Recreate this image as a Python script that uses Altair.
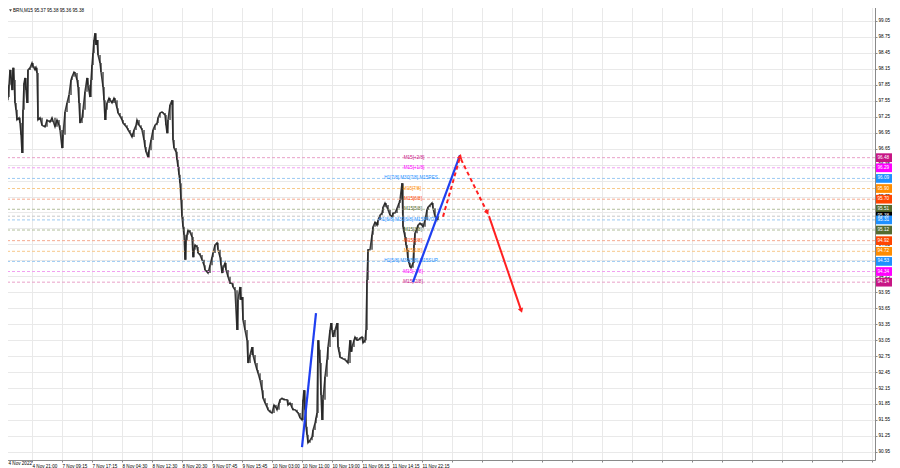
import altair as alt
import pandas as pd

# ---------------- data ----------------
slots = [0, 2, 4, 6, 8, 9, 10, 11, 12, 13, 14, 15, 16, 17, 19, 20, 21, 22, 23, 24, 25, 26, 27, 28, 30, 32, 33, 35, 36, 37,
         38, 40, 42, 45, 47, 50, 52, 55, 57, 59, 60, 62, 63, 65, 67, 69, 71, 72, 74, 75, 77, 78, 79, 80, 82, 83, 85, 87, 88, 90,
         91, 92, 93, 94, 95, 96, 97, 98, 100, 101, 103, 104, 105, 106, 107, 109, 110, 112, 114, 115, 117, 118, 120, 122, 123, 125, 127, 128, 130, 132,
         134, 136, 137, 139, 141, 142, 144, 145, 146, 148, 149, 151, 153, 155, 157, 158, 160, 162, 163, 165, 166, 167, 168, 170, 172, 173, 174, 176, 177, 178,
         179, 180, 181, 182, 183, 184, 185, 186, 187, 188, 190, 192, 193, 194, 195, 197, 198, 200, 202, 204, 205, 207, 208, 210, 212, 213, 215, 217, 218, 220,
         221, 222, 223, 225, 226, 228, 230, 232, 233, 235, 237, 238, 240, 241, 242, 243, 245, 247, 248, 250, 252, 253, 255, 257, 258, 260, 262, 263, 265, 267,
         268, 270, 272, 274, 276, 277, 279, 280, 282, 284, 287, 288, 290, 292, 293, 295, 297, 298, 300, 302, 303, 304, 305, 306, 307, 308, 310, 312, 313, 315,
         316, 317, 318, 319, 320, 321, 322, 323, 325, 327, 328, 330, 331, 332, 333, 335, 337, 338, 339, 340, 342, 345, 347, 348, 350, 351, 352, 354, 355, 357,
         358, 360, 362, 363, 365, 366, 367, 368, 370, 372, 373, 375, 377, 378, 380, 382, 383, 385, 386, 388, 390, 392, 393, 395, 397, 399, 400, 402, 403, 404,
         405, 406, 407, 408, 409, 410, 411, 413, 414, 415, 417, 418, 420, 422, 423, 425, 427, 428, 430, 432, 433, 435, 437, 438]
closes = [97.19, 97.41, 97.32, 97.56, 97.62, 97.85, 98.13, 97.98, 97.75, 98.17, 97.94, 97.51, 97.38, 97.19, 97.23, 97.13, 96.91, 96.57, 97.38, 97.88, 97.98, 97.75, 97.51, 98.13, 98.17, 98.26, 98.20, 98.13, 98.17, 98.07,
          97.19, 97.23, 97.09, 97.06, 97.19, 97.15, 97.23, 97.06, 97.19, 97.09, 97.00, 96.66, 96.91, 97.34, 97.51, 97.66, 97.94, 98.00, 98.09, 98.07, 97.94, 97.81, 97.51, 97.13, 97.23, 97.38, 97.72, 97.98, 97.85, 97.62,
          97.94, 98.22, 98.45, 98.69, 98.82, 98.60, 98.69, 98.41, 98.26, 98.09, 97.81, 97.56, 97.19, 97.38, 97.51, 97.60, 97.56, 97.51, 97.60, 97.56, 97.41, 97.32, 97.26, 97.19, 97.13, 97.09, 97.04, 97.00, 96.94, 96.87,
          97.00, 97.09, 97.19, 97.09, 97.04, 97.00, 96.81, 96.68, 96.59, 96.49, 96.62, 96.81, 97.00, 97.09, 97.13, 97.23, 97.32, 97.34, 97.32, 97.28, 97.09, 96.94, 97.19, 97.47, 97.56, 96.81, 96.66, 96.59, 96.44, 96.31,
          96.16, 96.00, 95.69, 95.37, 95.18, 95.03, 94.56, 94.93, 95.03, 95.12, 95.08, 94.99, 94.61, 94.75, 94.84, 94.80, 94.69, 94.65, 94.56, 94.46, 94.37, 94.33, 94.31, 94.46, 94.61, 94.69, 94.84, 94.88, 94.75, 94.61,
          94.46, 94.31, 94.41, 94.50, 94.37, 94.24, 94.12, 94.12, 94.05, 93.99, 93.24, 93.81, 94.05, 93.81, 93.86, 93.43, 93.24, 93.05, 92.62, 92.77, 92.92, 92.77, 92.62, 92.49, 92.43, 92.30, 92.11, 91.96, 91.87, 91.79,
          91.74, 91.70, 91.68, 91.83, 91.78, 91.74, 91.87, 91.93, 91.96, 91.93, 91.93, 91.83, 91.87, 91.78, 91.74, 91.74, 91.70, 91.68, 91.59, 91.55, 91.93, 92.11, 91.74, 91.42, 91.27, 91.12, 91.17, 91.23, 91.36, 91.49,
          91.59, 91.68, 93.05, 92.87, 92.62, 92.02, 91.55, 91.93, 92.36, 92.68, 92.92, 93.24, 93.37, 93.24, 93.11, 93.24, 93.37, 92.92, 92.83, 92.73, 92.71, 92.68, 92.64, 92.62, 93.05, 92.83, 92.92, 93.05, 93.11, 93.05,
          93.05, 93.09, 93.11, 93.00, 93.05, 93.24, 94.18, 94.75, 94.75, 95.03, 95.18, 95.27, 95.21, 95.31, 95.40, 95.44, 95.55, 95.63, 95.59, 95.50, 95.40, 95.37, 95.44, 95.44, 95.53, 95.63, 95.69, 96.00, 95.18, 95.08,
          94.99, 94.84, 94.75, 94.56, 94.50, 94.43, 94.41, 94.50, 94.84, 95.06, 95.16, 95.21, 95.25, 95.21, 95.18, 95.31, 95.50, 95.55, 95.59, 95.63, 95.53, 95.37, 95.31, 95.38]

level_prices = [96.48, 96.29, 96.09, 95.90, 95.70, 95.51, 95.38, 95.31, 95.12, 94.92, 94.72, 94.53, 94.34, 94.14]
level_names = ["M15[+2/8]", "M15[+1/8]", "H1[7/8] M30[7/8] M15RES", "M15[7/8]", "M15[6/8]", "M15[5/8]", "",
               "H1[6/8] M30[6/8] M15PIVOT", "M15[3/8]", "M15[2/8]", "M15[1/8]", "H1[5/8] M30[5/8] M15SUP",
               "M15[-1/8]", "M15[-2/8]"]
level_colors = ["#c71585", "#ff00ff", "#1e90ff", "#ff8c00", "#ff4500", "#556b2f", "#000000",
                "#1e90ff", "#556b2f", "#ff4500", "#ff8c00", "#1e90ff", "#ff00ff", "#c71585"]
line_colors = ["#e8a0c8", "#f0a0f0", "#9ccaf2", "#f7c98a", "#f5a98f", "#b3bf9c", "#c8c8c8",
               "#9ccaf2", "#b3bf9c", "#f5a98f", "#f7c98a", "#9ccaf2", "#f0a0f0", "#e8a0c8"]
label_slot = [414, 414, 411, 412, 413, 413, 413, 408, 413, 413, 413, 411, 413, 413]

y_ticks = [90.95, 91.25, 91.55, 91.85, 92.15, 92.45, 92.75, 93.05, 93.35, 93.65, 93.95, 94.25, 94.55, 94.85,
           95.15, 95.45, 95.75, 96.05, 96.35, 96.65, 96.95, 97.25, 97.55, 97.85, 98.15, 98.45, 98.75, 99.05, 99.35]
x_grid = [32, 62, 92, 122, 152, 182, 212, 242, 272, 302, 332, 362, 392, 422, 452, 482, 512, 542, 572, 602,
          632, 662, 692, 722, 752, 782, 812, 842, 872]
x_labels = ["4 Nov 21:00", "7 Nov 09:15", "7 Nov 17:15", "8 Nov 04:30", "8 Nov 12:30", "8 Nov 20:30",
            "9 Nov 07:45", "9 Nov 15:45", "10 Nov 03:00", "10 Nov 11:00", "10 Nov 19:00", "11 Nov 06:15",
            "11 Nov 14:15", "11 Nov 22:15"]
first_label = "4 Nov 2022"

blue_seg = [1, 1, 2, 2]
blue_slot = [302, 316, 413, 460]
blue_price = [91.04, 93.56, 94.14, 96.53]

red_dash_seg = [1, 1, 2, 2]
red_dash_slot = [443, 460, 461, 487]
red_dash_price = [95.37, 96.49, 96.45, 95.46]
red_solid_slot = [489, 521]
red_solid_price = [95.38, 93.62]
arrow_slot = [460, 487, 521]
arrow_price = [96.49, 95.46, 93.62]
arrow_angle = [16, 154, 161]

title_text = "BRN,M15  95.37 95.38 95.36 95.38"

# ---------------- chart ----------------
FONT = "Liberation Sans"
FS = 4.6
PLOT_W = 875
xs = alt.Scale(domain=[0, PLOT_W], nice=False, zero=False)
ys = alt.Scale(domain=[90.797, 99.444], nice=False, zero=False)

opens = [closes[0]] + closes[:-1]
price_df = pd.DataFrame({"slot": slots, "close": closes, "open": opens})
lev_df = pd.DataFrame({"price": level_prices, "name": level_names, "color": level_colors,
                       "lcolor": line_colors, "lslot": label_slot})

label_expr = "[" + ",".join("'" + s + "'" for s in x_labels) + "][round((datum.value-32)/30)] || ''"

x_axis = alt.Axis(values=x_grid, tickCount=200, labelExpr=label_expr, grid=True, gridColor="#e9e9e9", gridWidth=1,
                  domain=True, domainColor="#8a8a8a", tickColor="#8a8a8a", tickSize=2,
                  labelFont=FONT, labelFontSize=FS, labelColor="#000", labelAlign="left",
                  labelPadding=1, labelFlush=False, labelOverlap=False, title=None, zindex=0)
y_axis = alt.Axis(orient="right", values=y_ticks, tickCount=200, format=".2f", grid=True, gridColor="#e9e9e9",
                  gridWidth=1, domain=True, domainColor="#8a8a8a", tickColor="#8a8a8a", tickSize=2,
                  labelFont=FONT, labelFontSize=FS, labelColor="#000", labelAlign="left",
                  labelPadding=1, labelFlush=False, labelOverlap=False, title=None, zindex=0)


def X(field):
    return alt.X(field, scale=xs, axis=x_axis)


def Y(field):
    return alt.Y(field, scale=ys, axis=y_axis)


base_lev = alt.Chart(lev_df)

price_line = alt.Chart(price_df).mark_line(color="#3c3c3c", strokeWidth=1.5).encode(
    x=X("slot:Q"), y=Y("close:Q"))
price_sticks = alt.Chart(price_df).mark_rule(color="#222", strokeWidth=1.2).encode(
    x=X("slot:Q"), y=Y("open:Q"), y2="close:Q")

level_lines = base_lev.mark_rule(strokeDash=[3, 2], strokeWidth=1).encode(
    y=Y("price:Q"), color=alt.Color("lcolor:N", scale=None))

lev_text = base_lev.mark_text(font=FONT, fontSize=FS, baseline="middle", align="center").encode(
    x=X("lslot:Q"), y=Y("price:Q"), text="name:N", color=alt.Color("color:N", scale=None))

blue_df = pd.DataFrame({"seg": blue_seg, "slot": blue_slot, "price": blue_price})
blue_lines = alt.Chart(blue_df).mark_line(color="#1f3ff0", strokeWidth=2.2).encode(
    x=X("slot:Q"), y=Y("price:Q"), detail="seg:N")

rd_df = pd.DataFrame({"seg": red_dash_seg, "slot": red_dash_slot, "price": red_dash_price})
red_dash = alt.Chart(rd_df).mark_line(color="#ff2020", strokeWidth=2, strokeDash=[4, 3]).encode(
    x=X("slot:Q"), y=Y("price:Q"), detail="seg:N")
rs_df = pd.DataFrame({"slot": red_solid_slot, "price": red_solid_price})
red_solid = alt.Chart(rs_df).mark_line(color="#ff2020", strokeWidth=2).encode(
    x=X("slot:Q"), y=Y("price:Q"))
ar_df = pd.DataFrame({"slot": arrow_slot, "price": arrow_price, "ang": arrow_angle})
arrows = alt.Chart(ar_df).mark_point(shape="triangle", filled=True, color="#ff2020", size=30, opacity=1).encode(
    x=X("slot:Q"), y=Y("price:Q"), angle=alt.Angle("ang:Q", scale=None))

tags = base_lev.mark_rect().encode(
    x=alt.value(PLOT_W + 1), x2=alt.value(PLOT_W + 17),
    y=Y("top:Q"), y2="bot:Q",
    color=alt.Color("color:N", scale=None),
).transform_calculate(top="datum.price + 0.082", bot="datum.price - 0.082")
tag_text = base_lev.mark_text(font=FONT, fontSize=FS, align="left", baseline="middle", color="white").encode(
    x=alt.value(PLOT_W + 2.5), y=Y("price:Q"), text=alt.Text("price:Q", format=".2f"))

title_df = pd.DataFrame({"t": [title_text]})
title_mark = alt.Chart(title_df).mark_text(font=FONT, fontSize=FS, align="left", baseline="middle",
                                           color="#000").encode(
    x=alt.value(13), y=alt.value(10.5), text="t:N")
tri_mark = alt.Chart(title_df).mark_point(shape="triangle-down", filled=True, color="#000", size=8).encode(
    x=alt.value(10.5), y=alt.value(10.5))
first_df = pd.DataFrame({"t": [first_label]})
first_mark = alt.Chart(first_df).mark_text(font=FONT, fontSize=FS, align="left", baseline="top",
                                           color="#000").encode(
    x=alt.value(8.5), y=alt.value(461), text="t:N")

chart = alt.layer(
    price_line, level_lines, price_sticks, lev_text, blue_lines, red_dash, red_solid, arrows,
    tags, tag_text, title_mark, tri_mark, first_mark,
).properties(
    width=PLOT_W, height=460,
    autosize=alt.AutoSizeParams(type="none"),
    padding={"left": -8, "top": -8, "right": 17, "bottom": 8},
).configure_view(strokeWidth=0).configure(background="white")

chart.save("out.html", embed_options={"renderer": "svg", "actions": False})
